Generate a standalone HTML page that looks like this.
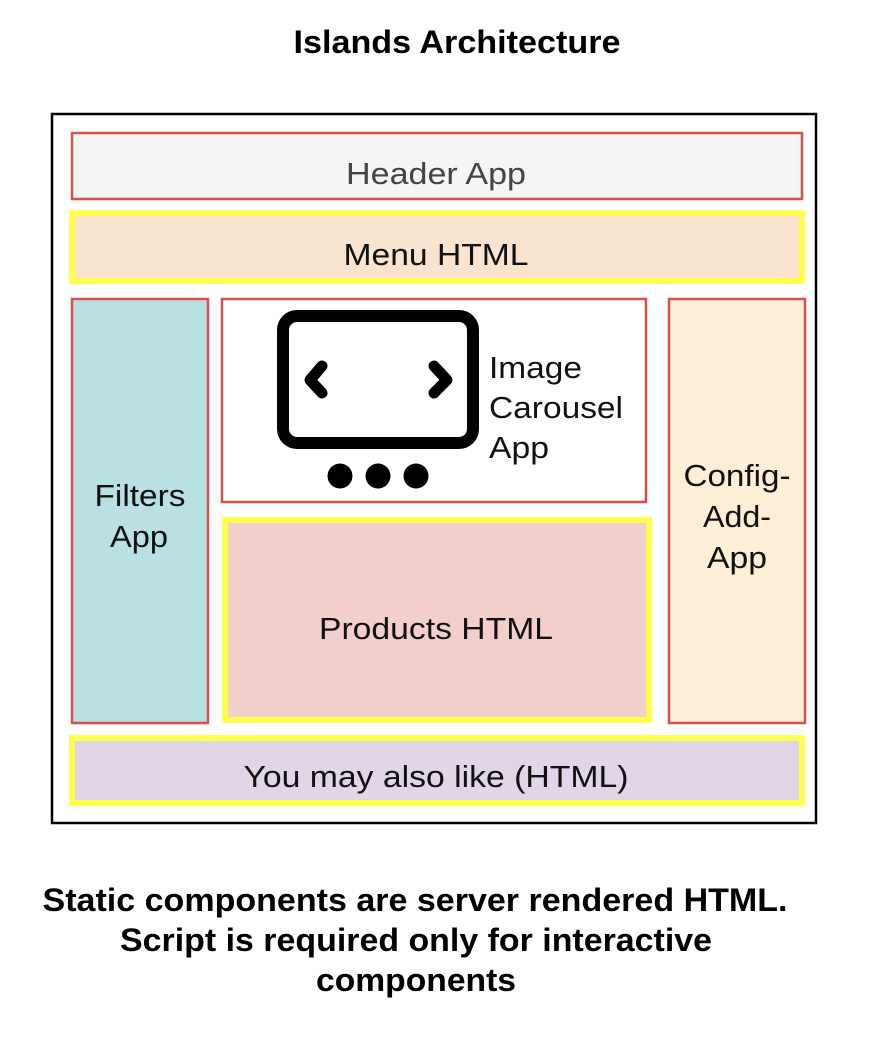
<!DOCTYPE html>
<html><head><meta charset="utf-8"><style>
html,body{margin:0;padding:0;background:#fff;}
svg{display:block;}
text{font-family:"Liberation Sans",Arial,sans-serif;}
</style></head><body>
<svg width="878" height="1048" viewBox="0 0 878 1048" xmlns="http://www.w3.org/2000/svg">
<rect width="878" height="1048" fill="#fff"/>
<text x="457" y="53" font-size="32" font-weight="bold" text-anchor="middle" textLength="327" lengthAdjust="spacingAndGlyphs">Islands Architecture</text>
<rect x="52" y="114" width="764" height="709" fill="#fff" stroke="#000" stroke-width="2.5"/>
<rect x="72" y="133" width="730" height="66" fill="#f5f5f5" stroke="#d6504e" stroke-width="2.5"/>
<text x="436" y="184" font-size="31" fill="#444" text-anchor="middle" textLength="180" lengthAdjust="spacingAndGlyphs">Header App</text>
<rect x="72" y="213" width="730" height="68" fill="#fae3cf" stroke="#ffff4d" stroke-width="6"/>
<text x="436" y="265" font-size="31" fill="#111" text-anchor="middle" textLength="185" lengthAdjust="spacingAndGlyphs">Menu HTML</text>
<rect x="72" y="299" width="136" height="424" fill="#b9e0e3" stroke="#d6504e" stroke-width="2.5"/>
<text x="140" y="506" font-size="31" fill="#111" text-anchor="middle" textLength="91" lengthAdjust="spacingAndGlyphs">Filters</text>
<text x="139" y="547" font-size="31" fill="#111" text-anchor="middle" textLength="58" lengthAdjust="spacingAndGlyphs">App</text>
<rect x="222" y="299" width="424" height="203" fill="#fff" stroke="#d6504e" stroke-width="2.5"/>
<rect x="283" y="316" width="190" height="127" rx="14" fill="none" stroke="#000" stroke-width="12"/>
<polyline points="322,366 310,380 322,393" fill="none" stroke="#000" stroke-width="11" stroke-linecap="round" stroke-linejoin="round"/>
<polyline points="434,366 447,380 434,393" fill="none" stroke="#000" stroke-width="11" stroke-linecap="round" stroke-linejoin="round"/>
<circle cx="340" cy="476" r="12.5" fill="#000"/>
<circle cx="378" cy="476" r="12.5" fill="#000"/>
<circle cx="416" cy="476" r="12.5" fill="#000"/>
<text x="489" y="378" font-size="31" fill="#111" textLength="93" lengthAdjust="spacingAndGlyphs">Image</text>
<text x="489" y="418" font-size="31" fill="#111" textLength="134" lengthAdjust="spacingAndGlyphs">Carousel</text>
<text x="489" y="458" font-size="31" fill="#111" textLength="60" lengthAdjust="spacingAndGlyphs">App</text>
<rect x="225" y="520" width="424" height="200" fill="#f3cfcb" stroke="#ffff4d" stroke-width="6"/>
<text x="436" y="639" font-size="31" fill="#111" text-anchor="middle" textLength="234" lengthAdjust="spacingAndGlyphs">Products HTML</text>
<rect x="669" y="299" width="136" height="424" fill="#fdefd6" stroke="#d6504e" stroke-width="2.5"/>
<text x="737" y="486" font-size="31" fill="#111" text-anchor="middle" textLength="107" lengthAdjust="spacingAndGlyphs">Config-</text>
<text x="737" y="527" font-size="31" fill="#111" text-anchor="middle" textLength="68" lengthAdjust="spacingAndGlyphs">Add-</text>
<text x="737" y="568" font-size="31" fill="#111" text-anchor="middle" textLength="60" lengthAdjust="spacingAndGlyphs">App</text>
<rect x="72" y="738" width="730" height="65" fill="#e1d5e7" stroke="#ffff4d" stroke-width="6"/>
<text x="436" y="787" font-size="31" fill="#111" text-anchor="middle" textLength="385" lengthAdjust="spacingAndGlyphs">You may also like (HTML)</text>
<text x="415" y="911" font-size="32" font-weight="bold" text-anchor="middle" textLength="745" lengthAdjust="spacingAndGlyphs">Static components are server rendered HTML.</text>
<text x="416" y="951" font-size="32" font-weight="bold" text-anchor="middle" textLength="592" lengthAdjust="spacingAndGlyphs">Script is required only for interactive</text>
<text x="416" y="991" font-size="32" font-weight="bold" text-anchor="middle" textLength="200" lengthAdjust="spacingAndGlyphs">components</text>
</svg>
</body></html>
